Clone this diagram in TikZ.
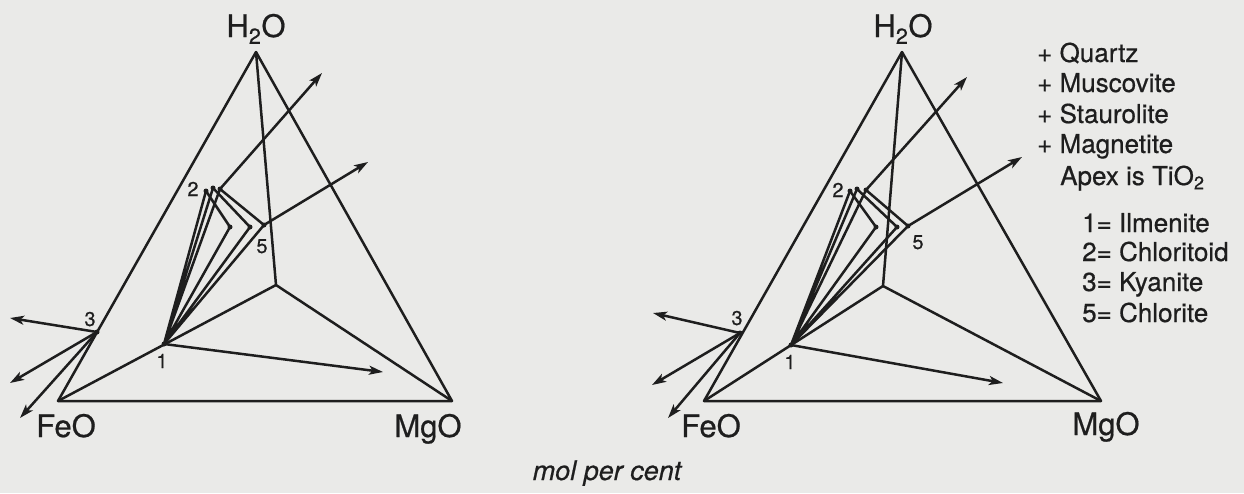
\documentclass[tikz,border=0pt]{standalone}
\usepackage{fontspec}
\setmainfont{TeX Gyre Heros}[FakeBold=0.6]
\usetikzlibrary{arrows.meta}
\definecolor{bgc}{RGB}{234,234,232}
\definecolor{ink}{RGB}{30,30,30}
\tikzset{
  edge/.style={draw=ink, line width=2.5pt, line join=round},
  arr/.style={edge, -{Stealth[length=14pt,width=9pt,inset=3.5pt]}},
  vlab/.style={font=\fontsize{31}{31}\selectfont, text=ink, inner sep=0pt, anchor=base},
  num/.style={font=\fontsize{20}{20}\selectfont, text=ink, inner sep=0pt, anchor=base},
  leg/.style={font=\fontsize{26}{26}\selectfont, text=ink, inner sep=0pt, anchor=base west},
}
\begin{document}
\begin{tikzpicture}[x=1pt,y=-1pt]
\fill[bgc] (0,0) rectangle (1244,493);
\useasboundingbox (0,0) rectangle (1244,493);

% ---------------- left diagram ----------------
\coordinate (LH) at (256,52);
\coordinate (LF) at (58,401);
\coordinate (LM) at (452,401);
\coordinate (LO) at (276,285);
\coordinate (L1) at (164,344);
\coordinate (L3) at (97,332);
\coordinate (L2a) at (206,191);
\coordinate (L2b) at (213,188);
\coordinate (L2c) at (220,189);
\coordinate (L5a) at (230,227);
\coordinate (L5b) at (250,227);
\coordinate (L5c) at (264,225);
\coordinate (LtA) at (322,73);
\coordinate (LtB) at (368,162);
\coordinate (LtC) at (383,372);
\coordinate (LtD) at (10,318);
\coordinate (LtE) at (10,383);
\coordinate (LtF) at (20,418);

\draw[edge] (LF) -- (LH) -- (LM) -- cycle;
\draw[edge] (LH) -- (LO) -- (LM);
\draw[edge] (LF) -- (LO);
\draw[edge] (L1) -- (L2a) (L1) -- (L2b) (L1) -- (L2c)
            (L1) -- (L5a) (L1) -- (L5b) (L1) -- (L5c);
\draw[edge] (L2a) -- (L5a) (L2b) -- (L5b) (L2c) -- (L5c);
\draw[arr] (L2c) -- (LtA);
\draw[arr] (L5c) -- (LtB);
\draw[arr] (L1) -- (LtC);
\draw[arr] (L3) -- (LtD);
\draw[arr] (L3) -- (LtE);
\draw[arr] (L3) -- (LtF);
\foreach \p in {L2a,L2b,L2c,L5a,L5b,L5c,L1,L3} \fill[ink] (\p) circle (2.5pt);

\node[vlab] (lh2o) at (256,37) {H\textsubscript{2}O};
\node[vlab] (lfeo) at (66,437) {FeO};
\node[vlab] (lmgo) at (428,437) {MgO};
\node[num] (ln1) at (162,368) {1};
\node[num] (ln2) at (193,196) {2};
\node[num] (ln3) at (90,326) {3};
\node[num] (ln5) at (262,253) {5};

% ---------------- right diagram ----------------
\coordinate (RH) at (902,52);
\coordinate (RF) at (704,401);
\coordinate (RM) at (1101,401);
\coordinate (RO) at (883,286);
\coordinate (R1) at (791,345);
\coordinate (R3) at (740,333);
\coordinate (R2a) at (850,191);
\coordinate (R2b) at (857,189);
\coordinate (R2c) at (866,190);
\coordinate (R5a) at (876,227);
\coordinate (R5b) at (897,227);
\coordinate (R5c) at (908,226);
\coordinate (RtA) at (967,77);
\coordinate (RtB) at (1022,157);
\coordinate (RtC) at (1003,383);
\coordinate (RtD) at (653,313);
\coordinate (RtE) at (652,385);
\coordinate (RtF) at (668,418);

\draw[edge] (RF) -- (RH) -- (RM) -- cycle;
\draw[edge] (RH) -- (RO) -- (RM);
\draw[edge] (RF) -- (RO);
\draw[edge] (R1) -- (R2a) (R1) -- (R2b) (R1) -- (R2c)
            (R1) -- (R5a) (R1) -- (R5b) (R1) -- (R5c);
\draw[edge] (R2a) -- (R5a) (R2b) -- (R5b) (R2c) -- (R5c);
\draw[arr] (R2c) -- (RtA);
\draw[arr] (R5c) -- (RtB);
\draw[arr] (R1) -- (RtC);
\draw[arr] (R3) -- (RtD);
\draw[arr] (R3) -- (RtE);
\draw[arr] (R3) -- (RtF);
\foreach \p in {R2a,R2b,R2c,R5a,R5b,R5c,R1,R3} \fill[ink] (\p) circle (2.5pt);

\node[vlab] (rh2o) at (903,37) {H\textsubscript{2}O};
\node[vlab] (rfeo) at (711,437) {FeO};
\node[vlab] (rmgo) at (1106,435) {MgO};
\node[num] (rn1) at (790,369) {1};
\node[num] (rn2) at (838,197) {2};
\node[num] (rn3) at (737,325) {3};
\node[num] (rn5) at (918,249) {5};

% ---------------- legend ----------------
\node[leg] (q) at (1037,62) {+ Quartz};
\node[leg] (mu) at (1037,92) {+ Muscovite};
\node[leg] (st) at (1037,123) {+ Staurolite};
\node[leg] (ma) at (1037,153) {+ Magnetite};
\node[leg] (ap) at (1060,185) {Apex is TiO\textsubscript{2}};
\node[leg] (k1) at (1082,232) {1= Ilmenite};
\node[leg] (k2) at (1082,261) {2= Chloritoid};
\node[leg] (k3) at (1082,291) {3= Kyanite};
\node[leg] (k5) at (1082,322) {5= Chlorite};

\node[font=\fontsize{27}{27}\selectfont\itshape, text=ink, inner sep=0pt, anchor=base] (mpc) at (607,480) {mol per cent};
\end{tikzpicture}
\end{document}
